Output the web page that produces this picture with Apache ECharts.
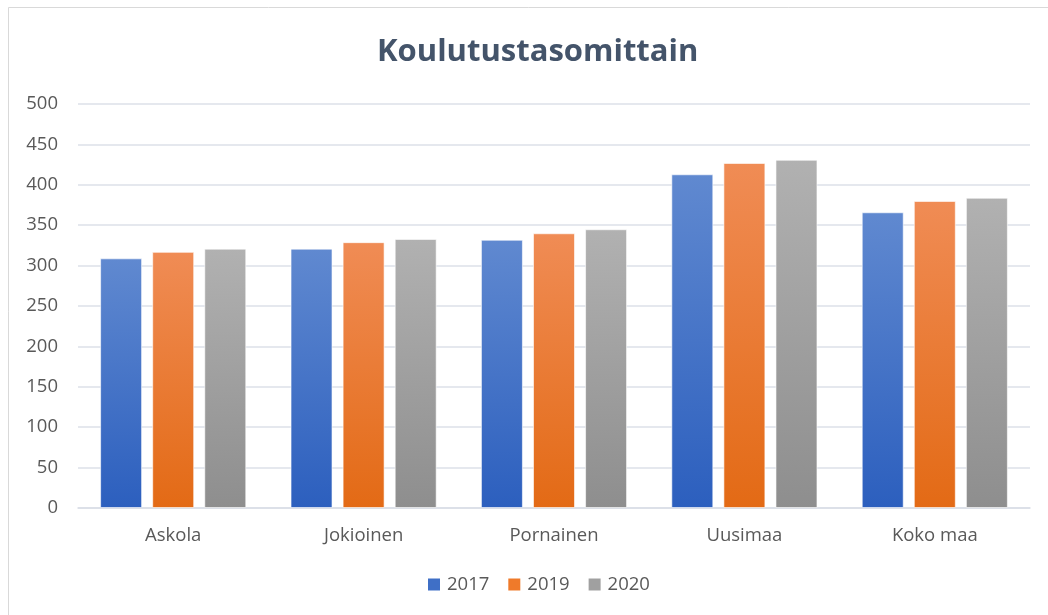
<!DOCTYPE html>
<html>
<head>
<meta charset="utf-8">
<style>
  html, body { margin: 0; padding: 0; background: #fff; }
  #main { width: 1048px; height: 615px; }
</style>
<script src="https://cdn.jsdelivr.net/npm/echarts@6/dist/echarts.min.js"></script>
</head>
<body>
<div id="main"></div>
<script>
var categories = ['Askola', 'Jokioinen', 'Pornainen', 'Uusimaa', 'Koko maa'];
var years = ['2017', '2019', '2020'];
var values2017 = [309, 321, 332, 413, 366];
var values2019 = [317, 329, 340, 427, 380];
var values2020 = [321, 333, 345, 431, 384];

var chartDom = document.getElementById('main');
var myChart = echarts.init(chartDom);
var fontName = 'Open Sans';

function grad(top, bottom) {
  return new echarts.graphic.LinearGradient(0, 0, 0, 1, [
    { offset: 0, color: top },
    { offset: 1, color: bottom }
  ]);
}

var colors = [
  grad('#6089d0', '#2c5fbe'),
  grad('#f08c55', '#e36a15'),
  grad('#b1b1b1', '#8e8e8e')
];
var legendColors = ['#3f6fc6', '#ef7a2a', '#a0a0a0'];

function makeSeries(name, data, i) {
  return {
    name: name,
    type: 'bar',
    data: data,
    barWidth: 42,
    barGap: '24%',
    itemStyle: {
      color: colors[i],
      borderColor: 'rgba(255,255,255,0.6)',
      borderWidth: 1
    },
    emphasis: { disabled: true }
  };
}

var option = {
  backgroundColor: '#ffffff',
  animation: false,
  color: legendColors,
  title: {
    text: 'Koulutustasomittain',
    left: 372,
    top: 32,
    textStyle: {
      fontFamily: fontName,
      fontSize: 31,
      fontWeight: 'bold',
      color: '#44546a'
    }
  },
  graphic: [{
    type: 'rect',
    shape: { x: 8.5, y: 7.5, width: 1200, height: 800 },
    style: { fill: 'none', stroke: '#d9d9d9', lineWidth: 1 },
    silent: true
  }],
  legend: {
    bottom: 16,
    left: 423,
    itemWidth: 12,
    itemHeight: 12,
    itemGap: 19,
    icon: 'rect',
    textStyle: { fontFamily: fontName, fontSize: 18.5, color: '#595959', padding: [0, 0, 0, 2] },
    data: years.map(function (y, i) {
      return { name: y, itemStyle: { color: legendColors[i], borderWidth: 0 } };
    })
  },
  grid: {
    left: 78,
    right: 18,
    top: 104,
    bottom: 107
  },
  xAxis: {
    type: 'category',
    data: categories,
    axisTick: { show: false },
    axisLine: { lineStyle: { color: '#d9dde6', width: 1.5 } },
    axisLabel: {
      fontFamily: fontName,
      fontSize: 18.5,
      color: '#595959',
      margin: 18
    }
  },
  yAxis: {
    type: 'value',
    min: 0,
    max: 500,
    interval: 50,
    axisLine: { show: false },
    axisTick: { show: false },
    splitLine: { lineStyle: { color: '#dde1e8', width: 1.5 } },
    axisLabel: {
      fontFamily: fontName,
      fontSize: 18.5,
      color: '#595959',
      margin: 20
    }
  },
  series: [
    makeSeries(years[0], values2017, 0),
    makeSeries(years[1], values2019, 1),
    makeSeries(years[2], values2020, 2)
  ]
};

option && myChart.setOption(option);

window.addEventListener('resize', function () {
  myChart.resize();
});
</script>
</body>
</html>
